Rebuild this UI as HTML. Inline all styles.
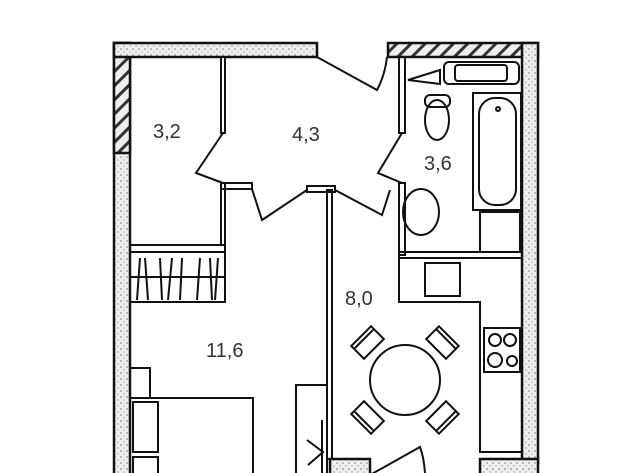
<!DOCTYPE html>
<html><head><meta charset="utf-8"><style>
html,body{margin:0;padding:0;background:#fff;width:640px;height:473px;overflow:hidden}
text{font-family:"Liberation Sans",sans-serif;font-size:20px;fill:#333}
</style></head><body>
<svg width="640" height="473" viewBox="0 0 640 473" xmlns="http://www.w3.org/2000/svg">
<defs>
<pattern id="d" width="6" height="6" patternUnits="userSpaceOnUse"><rect width="6" height="6" fill="#eee"/><circle cx="1" cy="1" r="0.8" fill="#777"/><circle cx="4" cy="4" r="0.7" fill="#999"/></pattern>
<pattern id="h" width="10" height="10" patternUnits="userSpaceOnUse" patternTransform="rotate(45)"><rect width="10" height="10" fill="#eee"/><rect width="3" height="10" fill="#333"/></pattern>
</defs>
<g stroke="#111" stroke-width="2.5">
<!-- outer walls -->
<rect x="114" y="43" width="16" height="440" fill="url(#d)"/>
<rect x="114" y="43" width="16" height="110" fill="url(#h)"/>
<rect x="114" y="43" width="203" height="14" fill="url(#d)"/>
<rect x="388" y="43" width="150" height="14" fill="url(#h)"/>
<rect x="522" y="43" width="16" height="420" fill="url(#d)"/>
<rect x="330" y="459" width="40" height="20" fill="url(#d)"/>
<rect x="480" y="459" width="58" height="20" fill="url(#d)"/>
</g>
<g stroke="#111" stroke-width="2" fill="none">
<!-- partitions -->
<rect x="221" y="57" width="4" height="76" fill="#fff"/>
<rect x="221" y="183" width="4" height="62"/>
<rect x="221" y="183" width="31" height="6"/>
<rect x="307" y="186" width="28" height="6"/>
<rect x="327" y="190" width="5" height="269"/>
<rect x="399" y="57" width="6" height="76"/>
<rect x="399" y="183" width="6" height="72"/>
<rect x="399" y="252" width="123" height="6"/>
<rect x="130" y="245" width="95" height="7"/>
<!-- doors -->
<path d="M317 57 L377 90 Q385 75 387 57"/>
<path d="M223 133 L196 173 L223 183"/>
<path d="M252 189 L262 220 L307 190"/>
<path d="M335 190 L382 215 L390 190"/>
<path d="M402 133 L378 173 L402 183"/>
<path d="M370 475 L420 447 Q424 458 425 473"/>
<!-- wardrobe -->
<rect x="130" y="252" width="95" height="50"/>
<line x1="130" y1="277" x2="225" y2="277"/>
<path d="M140 258 L137 300 M145 258 L148 300 M160 258 L162 300 M172 258 L168 300 M182 258 L180 300 M200 258 L197 300 M210 258 L212 300 M218 258 L215 300"/>
<!-- bathroom -->
<rect x="444" y="62" width="75" height="22" rx="5"/>
<rect x="455" y="65" width="52" height="16" rx="3"/>
<path d="M408 80 L440 70 L440 84 Z"/>
<ellipse cx="437" cy="120" rx="12" ry="20"/>
<rect x="425" y="95" width="25" height="12" rx="5"/>
<rect x="473" y="93" width="48" height="117"/>
<rect x="479" y="98" width="37" height="107" rx="16"/>
<circle cx="498" cy="109" r="2"/>
<rect x="480" y="212" width="40" height="40"/>
<ellipse cx="421" cy="212" rx="18" ry="23"/>
<!-- kitchen -->
<path d="M399 258 V302 H480 V452 H522"/>
<rect x="425" y="263" width="35" height="33"/>
<rect x="484" y="328" width="36" height="44"/>
<circle cx="495" cy="340" r="6"/><circle cx="510" cy="340" r="6"/>
<circle cx="495" cy="360" r="7"/><circle cx="512" cy="361" r="5"/>
<!-- table -->
<circle cx="405" cy="380" r="35"/>
<g transform="translate(405 380)">
<g transform="rotate(-45)"><rect x="-14" y="-62" width="28" height="18"/><line x1="-14" y1="-58" x2="14" y2="-58"/></g>
<g transform="rotate(45)"><rect x="-14" y="-62" width="28" height="18"/><line x1="-14" y1="-58" x2="14" y2="-58"/></g>
<g transform="rotate(135)"><rect x="-14" y="-62" width="28" height="18"/><line x1="-14" y1="-58" x2="14" y2="-58"/></g>
<g transform="rotate(-135)"><rect x="-14" y="-62" width="28" height="18"/><line x1="-14" y1="-58" x2="14" y2="-58"/></g>
</g>
<!-- bedroom -->
<rect x="130" y="368" width="20" height="30"/>
<rect x="130" y="398" width="123" height="80"/>
<rect x="133" y="402" width="25" height="50"/>
<rect x="133" y="457" width="25" height="20"/>
<rect x="296" y="385" width="31" height="95"/>
<line x1="322" y1="420" x2="322" y2="473"/>
<path d="M307 440 L323 452 L308 465"/>
</g>
<text x="153" y="138">3,2</text>
<text x="292" y="141">4,3</text>
<text x="424" y="170">3,6</text>
<text x="345" y="305">8,0</text>
<text x="206" y="357">11,6</text>
</svg>
</body></html>
